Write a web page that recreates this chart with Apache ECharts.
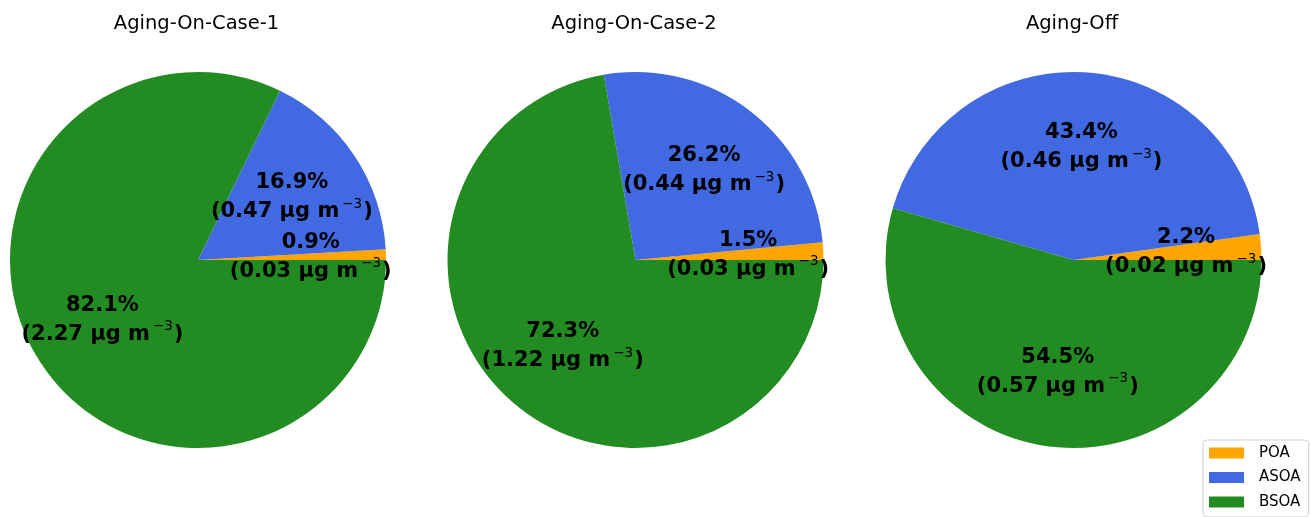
<!DOCTYPE html>
<html>
<head>
<meta charset="utf-8">
<script src="https://cdn.jsdelivr.net/npm/echarts@6/dist/echarts.min.js"></script>
<style>
  html, body { margin: 0; padding: 0; background: #fff; }
  #chart { width: 1311px; height: 517px; }
</style>
</head>
<body>
<div id="chart"></div>
<script>
// SOA source contributions for three model configurations
const components = ['POA', 'ASOA', 'BSOA'];
const caseTitles = ['Aging-On-Case-1', 'Aging-On-Case-2', 'Aging-Off'];

// share of total (%) per component, in the order of `components`
const shareCase1 = [0.9, 16.9, 82.1];
const shareCase2 = [1.5, 26.2, 72.3];
const shareOff = [2.2, 43.4, 54.5];

// mean concentration (µg m-3) per component
const concCase1 = [0.03, 0.47, 2.27];
const concCase2 = [0.03, 0.44, 1.22];
const concOff = [0.02, 0.46, 0.57];

const shares = [shareCase1, shareCase2, shareOff];
const concs = [concCase1, concCase2, concOff];
const colors = ['#FFA500', '#4169E1', '#228B22'];

const FONT = 'DejaVu Sans';
const R = 188;                    // pie radius
const centersX = [198, 635.5, 1073.5];
const centerY = 260;
// labels sit at 0.6 R; ECharts puts inside labels at r/2 + 3px
const labelRingR = 2 * (0.6 * R - 3);

const series = [];
shares.forEach((vals, k) => {
  series.push({
    type: 'pie',
    name: caseTitles[k],
    center: [centersX[k], centerY],
    radius: [0, R],
    startAngle: 0,
    clockwise: false,
    silent: true,
    label: { show: false },
    labelLine: { show: false },
    itemStyle: { borderWidth: 0 },
    data: components.map((c, i) => ({ name: c, value: vals[i], itemStyle: { color: colors[i] } }))
  });
});
// label rings: same slices, transparent, carrying the text
shares.forEach((vals, k) => {
  series.push({
    type: 'pie',
    name: caseTitles[k] + ' labels',
    center: [centersX[k], centerY],
    radius: [0, labelRingR],
    startAngle: 0,
    clockwise: false,
    silent: true,
    z: 5,
    itemStyle: { color: 'rgba(0,0,0,0)', borderWidth: 0 },
    labelLine: { show: false },
    label: {
      show: true,
      position: 'inside',
      align: 'center',
      formatter: (p) => '{b|' + vals[p.dataIndex].toFixed(1) + '%}\n{b|(' +
        concs[k][p.dataIndex].toFixed(2) + ' µg m}{s|−3}{b|)}',
      rich: {
        b: { fontFamily: FONT, fontSize: 21, fontWeight: 'bold', color: '#000', lineHeight: 29 },
        s: { fontFamily: FONT, fontSize: 13.5, fontWeight: 'normal', color: '#000', verticalAlign: 'top', lineHeight: 14, padding: [0, 1, 0, 3] }
      }
    },
    data: components.map((c, i) => ({ name: c, value: vals[i] }))
  });
});

const chart = echarts.init(document.getElementById('chart'), null, { renderer: 'canvas' });
chart.setOption({
  animation: false,
  backgroundColor: '#ffffff',
  title: caseTitles.map((t, k) => ({
    text: t,
    left: centersX[k] - 1.5,
    top: 13.5,
    padding: 0,
    textAlign: 'center',
    textStyle: { fontFamily: FONT, fontSize: 19.5, fontWeight: 'normal', color: '#000' }
  })),
  legend: {
    data: components,
    orient: 'vertical',
    left: 1203,
    top: 440,
    padding: [5, 8, 7, 6],
    itemWidth: 35,
    itemHeight: 11,
    itemGap: 8.5,
    icon: 'rect',
    backgroundColor: '#fff',
    borderColor: '#d0d0d0',
    borderWidth: 1,
    borderRadius: 4,
    selectedMode: false,
    textStyle: { fontFamily: FONT, fontSize: 15, color: '#000', padding: [0, 0, 0, 10], lineHeight: 16 }
  },
  series: series
});
</script>
</body>
</html>
